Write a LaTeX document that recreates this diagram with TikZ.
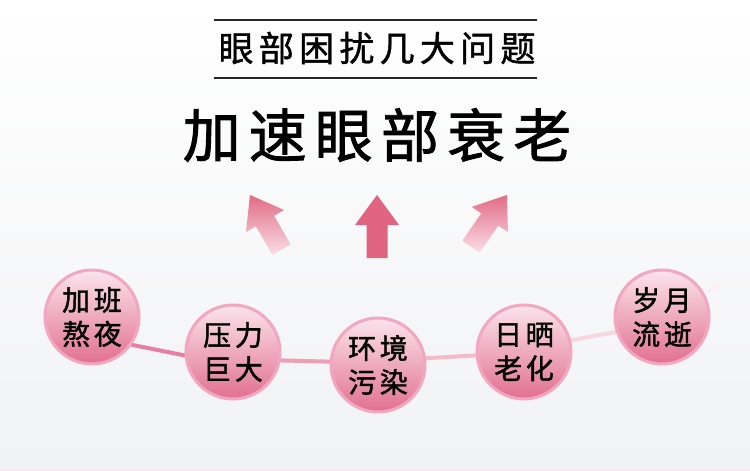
\documentclass[tikz,border=0pt]{standalone}
\usepackage{fontspec}
\newfontfamily\cjk{Noto Sans CJK SC}
\newfontfamily\cjkA[LetterSpace=15,FakeBold=1.2]{Noto Sans CJK SC}
\newfontfamily\cjkB[LetterSpace=14,FakeBold=1.5]{Noto Sans CJK SC}
\newfontfamily\cjkC[LetterSpace=13,FakeBold=1.5]{Noto Sans CJK SC}
\pgfdeclarelayer{bg}
\pgfdeclarelayer{lines}
\pgfsetlayers{bg,lines,main}
\definecolor{ringpink}{RGB}{243,166,192}
\definecolor{balltop}{RGB}{251,228,236}
\definecolor{ballmid}{RGB}{241,176,196}
\definecolor{ballbot}{RGB}{225,112,143}
\definecolor{arrowpink}{RGB}{224,100,127}
\definecolor{arrowlight}{RGB}{249,222,230}
\definecolor{bggray}{RGB}{241,242,244}
\definecolor{linkA}{RGB}{230,128,160}
\definecolor{linkB}{RGB}{238,157,183}
\definecolor{linkC}{RGB}{244,186,204}
\definecolor{linkD}{RGB}{248,214,224}
\definecolor{linkE}{RGB}{252,238,242}
\definecolor{strip}{RGB}{252,228,236}
\tikzset{
  ball/.style={circle, minimum size=94pt, inner sep=0pt, line width=3pt,
    draw=ringpink, top color=balltop, middle color=ballmid, bottom color=ballbot,
    align=center, font=\cjkC\fontsize{28}{34}\selectfont, text=black},
  link/.style={line width=4pt, line cap=round},
  titletext/.style={inner sep=0pt, text=black},
  ruleline/.style={line width=1.3pt, draw=black!85}
}
\begin{document}
\begin{tikzpicture}[x=1pt,y=-1pt]
\useasboundingbox (0,0) rectangle (750,471);
\begin{pgfonlayer}{bg}
  \shade[top color=white, bottom color=bggray] (0,0) rectangle (750,471);
  \fill[strip] (0,468.5) rectangle (750,471);
\end{pgfonlayer}

% titles
\draw[ruleline] (214,20) -- (537,20);
\draw[ruleline] (214,78) -- (537,78);
\node[titletext, font=\cjkA\fontsize{35}{35}\selectfont] (t1) at (377,48) {眼部困扰几大问题};
\node[titletext, font=\cjkB\fontsize{58}{58}\selectfont] (t2) at (377,135) {加速眼部衰老};

% arrows
\shade[shading angle=30, top color=arrowpink!95, bottom color=arrowlight]
  (290.6,244.35) -- (274.1,215.8) -- (284.05,210.0) -- (250,195) -- (245.95,232.0) -- (255.9,226.3) -- (272.4,254.85) -- cycle;
\fill[arrowpink] (366.5,258) -- (366.5,225) -- (355,225) -- (377,195) -- (399,225) -- (387.5,225) -- (387.5,258) -- cycle;
\shade[shading angle=-35, top color=arrowpink!95, bottom color=arrowlight]
  (479.5,252.6) -- (498.4,225.6) -- (507.9,232.2) -- (507,195) -- (471.8,206.9) -- (481.2,213.5) -- (462.3,240.6) -- cycle;

% circles
\node[ball] (c1) at (92,317) {加班\\熬夜};
\node[ball] (c2) at (233,352) {压力\\巨大};
\node[ball] (c3) at (378,365) {环境\\污染};
\node[ball] (c4) at (524,352) {日晒\\老化};
\node[ball] (c5) at (662,317) {岁月\\流逝};
\coordinate (tailend) at (719,286);

\begin{pgfonlayer}{lines}
  \draw[link, linkA] (c1.-35) -- (c2.184);
  \draw[link, linkB] (c2.-10) -- (c3.176);
  \draw[link, linkC] (c3.8) -- (c4.184);
  \draw[link, linkD] (c4.14) -- (c5.198);
  \draw[link, linkE] (c5.29) -- (tailend);
\end{pgfonlayer}
\end{tikzpicture}
\end{document}
